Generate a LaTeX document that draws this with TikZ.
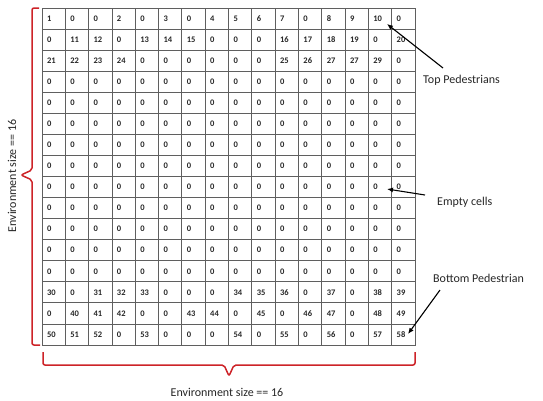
\documentclass[tikz,border=0pt]{standalone}
\usepackage{fontspec}
\setmainfont{Carlito}
\usetikzlibrary{arrows.meta,calc}
\definecolor{gridc}{RGB}{95,95,95}
\definecolor{bracered}{RGB}{205,35,40}
\tikzset{
  cell/.style={draw=gridc,line width=0.8pt,rectangle,minimum width=23.3125pt,minimum height=21.06pt,
    inner xsep=5pt,inner ysep=0pt,text width=13.3pt,align=left,text height=5.6pt,text depth=0pt,
    font=\fontsize{8.5}{9}\selectfont\bfseries,text=black!85,anchor=center},
  lbl/.style={font=\fontsize{12}{14}\selectfont,inner sep=0pt,text=black!85},
  arr/.style={-{Latex[length=6pt,width=5pt]},line width=1.1pt,black},
  bracep/.style={draw=bracered,line width=1.5pt,rounded corners=2pt}
}
\def\rowA{1,0,0,2,0,3,0,4,5,6,7,0,8,9,10,0}
\def\rowB{0,11,12,0,13,14,15,0,0,0,16,17,18,19,0,20}
\def\rowC{21,22,23,24,0,0,0,0,0,0,25,26,27,27,29,0}
\def\rowZ{0,0,0,0,0,0,0,0,0,0,0,0,0,0,0,0}
\def\rowN{30,0,31,32,33,0,0,0,34,35,36,0,37,0,38,39}
\def\rowO{0,40,41,42,0,0,43,44,0,45,0,46,47,0,48,49}
\def\rowP{50,51,52,0,53,0,0,0,54,0,55,0,56,0,57,58}
\begin{document}
\begin{tikzpicture}[x=1pt,y=-1pt]
\useasboundingbox (0,0) rectangle (543,400);
\foreach \r/\nm in {1/rowA,2/rowB,3/rowC,4/rowZ,5/rowZ,6/rowZ,7/rowZ,8/rowZ,9/rowZ,10/rowZ,11/rowZ,12/rowZ,13/rowZ,14/rowN,15/rowO,16/rowP}{
  \edef\lst{\csname\nm\endcsname}
  \foreach \v [count=\c] in \lst {
    \node[cell] (c-\r-\c) at ({42+(\c-0.5)*23.3125},{8+(\r-0.5)*21.06}) {\v};
  }
}
% left brace
\draw[bracep] (39,8) -- (32,8) -- (32,170) -- (21,175) -- (32,180) -- (32,345) -- (40,345);
\node[lbl,rotate=90] (lv) at (12,176) {Environment size == 16};
% bottom brace
\draw[bracep] (43,352) -- (43,365) -- (224,365) -- (229,376) -- (234,365) -- (415,365) -- (415,352);
\node[lbl] (lh) at (227,392) {Environment size == 16};
% labels and arrows
\node[lbl,anchor=west] (tp) at (423,80) {Top Pedestrians};
\node[lbl,anchor=west] (ec) at (437,202) {Empty cells};
\node[lbl,anchor=west] (bp) at (433,278) {Bottom Pedestrian};
\coordinate (tpT) at (443,68);
\coordinate (tpH) at (387,24);
\coordinate (ecT) at (425,195);
\coordinate (ecH) at (387,189);
\coordinate (bpT) at (440,290);
\coordinate (bpH) at (408,334);
\draw[arr] (tpT) -- (tpH);
\draw[arr] (ecT) -- (ecH);
\draw[arr] (bpT) -- (bpH);
\end{tikzpicture}
\end{document}
